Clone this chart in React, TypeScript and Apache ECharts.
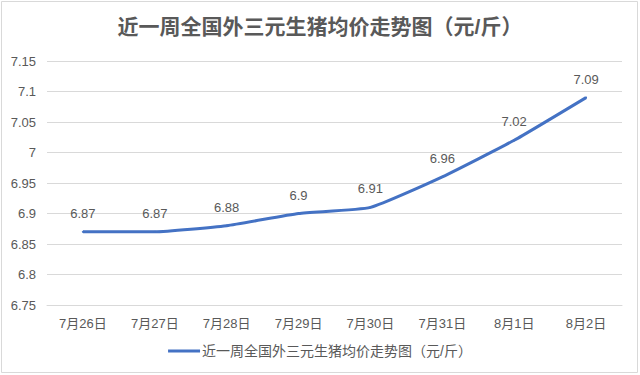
import React, { useEffect, useRef } from "react";
import * as echarts from "echarts";

const titleText = "近一周全国外三元生猪均价走势图（元/斤）";
const seriesName = "近一周全国外三元生猪均价走势图（元/斤）";
const categories = ["7月26日", "7月27日", "7月28日", "7月29日", "7月30日", "7月31日", "8月1日", "8月2日"];
const prices = [6.87, 6.87, 6.88, 6.9, 6.91, 6.96, 7.02, 7.09];
const yMin = 6.75;
const yMax = 7.15;
const yStep = 0.05;

const FONT = '"Liberation Sans", Arial, "Noto Sans CJK SC", sans-serif';

export default function App() {
  const ref = useRef<HTMLDivElement>(null);
  useEffect(() => {
    document.body.style.margin = "0";
    const chart = echarts.init(ref.current!, null, { renderer: "svg" });
    chart.setOption({
      animation: false,
      backgroundColor: "#ffffff",
      textStyle: { fontFamily: FONT },
      title: {
        text: titleText,
        left: "center",
        top: 11,
        textStyle: { fontSize: 21, fontWeight: "bold", color: "#595959", fontFamily: FONT },
      },
      grid: { left: 47, right: 18, top: 61, bottom: 70, containLabel: false },
      legend: {
        bottom: 12,
        left: "center",
        icon: "rect",
        itemWidth: 32,
        itemHeight: 3,
        itemGap: 10,
        itemStyle: { color: "#4472c4", opacity: 1 },
        textStyle: { fontSize: 14, color: "#595959", fontFamily: FONT, padding: [0, 0, 0, -3] },
        data: [seriesName],
      },
      xAxis: {
        type: "category",
        data: categories,
        boundaryGap: true,
        axisLine: { show: true, lineStyle: { color: "#d9d9d9" } },
        axisTick: { show: false },
        axisLabel: { fontSize: 13, color: "#595959", margin: 12 },
      },
      yAxis: {
        type: "value",
        min: yMin,
        max: yMax,
        interval: yStep,
        axisLine: { show: false },
        axisTick: { show: false },
        splitLine: { lineStyle: { color: "#d9d9d9", width: 1 } },
        axisLabel: {
          fontSize: 13,
          color: "#595959",
          margin: 11,
          formatter: (v: number) => String(parseFloat(v.toFixed(2))),
        },
      },
      series: [
        {
          name: seriesName,
          type: "line",
          data: prices,
          smooth: 0.15,
          showSymbol: true,
          symbol: "circle",
          symbolSize: 2,
          lineStyle: { color: "#4472c4", width: 3 },
          itemStyle: { color: "#4472c4" },
          label: {
            show: true,
            position: "top",
            distance: 11,
            fontSize: 13,
            color: "#595959",
          },
        },
      ],
      graphic: [
        {
          type: "rect",
          shape: { x: 1.5, y: 1.5, width: 636, height: 371 },
          style: { fill: "none", stroke: "#d9d9d9", lineWidth: 1 },
          silent: true,
        },
      ],
    });
    return () => chart.dispose();
  }, []);
  return <div ref={ref} style={{ width: 640, height: 375 }} />;
}
